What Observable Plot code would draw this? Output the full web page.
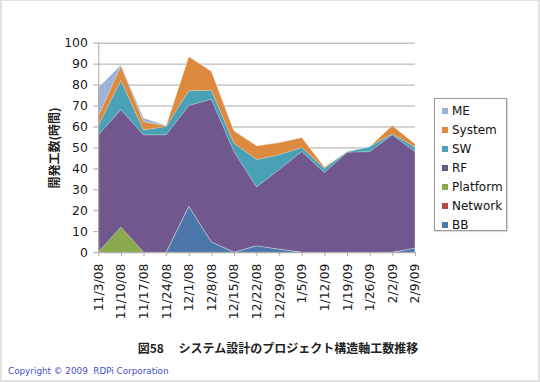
<!DOCTYPE html>
<html>
<head>
<meta charset="utf-8">
<script src="https://cdn.jsdelivr.net/npm/d3@7"></script>
<script src="https://cdn.jsdelivr.net/npm/@observablehq/plot@0.6"></script>
<style>
  html, body { margin: 0; padding: 0; background: #fff; }
  #wrap { position: relative; width: 540px; height: 382px; box-sizing: border-box;
          border: 2px solid #e2e2e2; border-top-width: 1px; overflow: hidden; background: #fff;
          font-family: "DejaVu Sans", sans-serif; }
  #chart { position: absolute; left: -2px; top: -1px; }
  #ylab { position: absolute; left: 51px; top: 147px; transform: translate(-50%, -50%) rotate(-90deg);
          font-family: "Noto Sans CJK JP", sans-serif; font-weight: bold; font-size: 12px; white-space: nowrap; color: #222; }
  #legend { position: absolute; left: 432px; top: 97px; width: 73px; height: 133px; box-sizing: border-box;
            border: 1px solid #9a9a9a; box-shadow: 1px 1px 1px #ddd; background: #fff; padding-top: 2px; }
  .item { height: 19.1px; display: flex; align-items: center; font-size: 12px; color: #111; white-space: nowrap; }
  .sw { width: 6px; height: 6px; margin-left: 7px; margin-right: 4px; }
  #caption { position: absolute; left: 0; width: 552px; top: 338px; text-align: center;
             font-family: "Noto Sans CJK JP", sans-serif; font-weight: bold; font-size: 12px; color: #222; }
  #copy { position: absolute; left: 6px; top: 365px; font-size: 8.8px; color: #3f4fc8; white-space: nowrap; }
</style>
</head>
<body>
<div id="wrap">
  <div id="chart"></div>
  <div id="ylab">開発工数(時間)</div>
  <div id="legend"></div>
  <div id="caption">図58　 システム設計のプロジェクト構造軸工数推移</div>
  <div id="copy">Copyright © 2009&nbsp; RDPi Corporation</div>
</div>
<script>
const dates = ["11/3/08","11/10/08","11/17/08","11/24/08","12/1/08","12/8/08","12/15/08","12/22/08","12/29/08","1/5/09","1/12/09","1/19/09","1/26/09","2/2/09","2/9/09"];
const BB       = [0, 0, 0, 0, 22, 5, 0, 3.1, 1.5, 0, 0, 0, 0, 0, 2];
const Network  = [0, 0, 0, 0, 0, 0, 0, 0, 0, 0, 0, 0, 0, 0, 0];
const Platform = [0, 12, 0, 0, 0, 0, 0, 0, 0, 0, 0, 0, 0, 0, 0];
const RF       = [56, 56, 56, 56, 48, 68, 48, 28, 38, 48, 38, 47.7, 48, 56, 46];
const SW       = [4.5, 14, 2.3, 4, 7, 4.3, 4, 13.1, 7, 2, 2, 0.3, 2.4, 0.5, 2.2];
const System   = [4.5, 7, 3.9, 0.3, 16.4, 9.1, 5.9, 6.6, 5.8, 4.7, 0.6, 0, 0, 4, 1.5];
const ME       = [13.5, 0.3, 1.8, 0.2, 0, 0, 0, 0, 0, 0, 0, 0, 0, 0, 0];
const yTicks   = [0, 10, 20, 30, 40, 50, 60, 70, 80, 90, 100];

const seriesNames  = ["BB", "Network", "Platform", "RF", "SW", "System", "ME"];
const seriesValues = [BB, Network, Platform, RF, SW, System, ME];
const seriesColors = ["#4b77aa", "#b84545", "#8aa94c", "#70588f", "#4aa0b4", "#dd8a3e", "#9db2d8"];

const rows = [];
seriesNames.forEach((name, s) => {
  seriesValues[s].forEach((v, i) => rows.push({series: name, i, v}));
});

const chart = Plot.plot({
  width: 542,
  height: 330,
  marginLeft: 99,
  marginRight: 124,
  marginTop: 43,
  marginBottom: 76,
  style: {fontFamily: "DejaVu Sans, sans-serif", fontSize: "12px", color: "#1a1a1a", background: "transparent"},
  x: {type: "linear", domain: [0, dates.length - 1]},
  y: {domain: [0, 100]},
  color: {domain: seriesNames, range: seriesColors},
  marks: [
    Plot.ruleY(yTicks, {stroke: "#a8a8a8", strokeWidth: 1}),
    Plot.areaY(rows, Plot.stackY({x: "i", y: "v", z: "series", fill: "series", order: seriesNames,
      stroke: "#ffffff", strokeOpacity: 0.22, strokeWidth: 0.8})),
    Plot.ruleX([0], {stroke: "#a8a8a8"}),
    Plot.ruleY([0], {stroke: "#a8a8a8"}),
    Plot.axisY({ticks: yTicks, tickSize: 5, tickPadding: 6, stroke: "#a8a8a8", label: null, fontSize: 12.5}),
    Plot.axisX({ticks: d3.range(dates.length), tickFormat: i => dates[i], tickRotate: -90,
      tickSize: 4, tickPadding: 7, stroke: "#a8a8a8", label: null, fontSize: 12.5})
  ]
});
document.getElementById("chart").appendChild(chart);

const legend = document.getElementById("legend");
["ME", "System", "SW", "RF", "Platform", "Network", "BB"].forEach(name => {
  const k = seriesNames.indexOf(name);
  const row = document.createElement("div");
  row.className = "item";
  row.innerHTML = `<span class="sw" style="background:${seriesColors[k]}"></span><span>${name}</span>`;
  legend.appendChild(row);
});
</script>
</body>
</html>
